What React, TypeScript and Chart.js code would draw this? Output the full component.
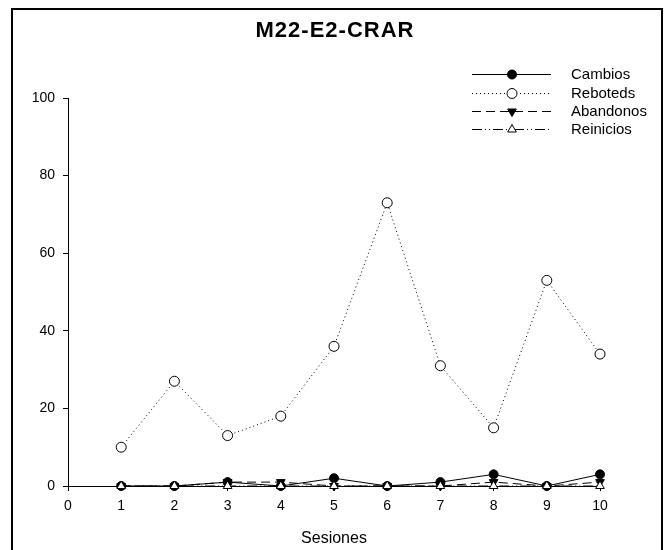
import React, { useEffect, useRef } from "react";
import { Chart, registerables } from "chart.js";

Chart.register(...registerables);

const sessions = [1, 2, 3, 4, 5, 6, 7, 8, 9, 10];
const cambios = [0, 0, 1, 0, 2, 0, 1, 3, 0, 3];
const reboteds = [10, 27, 13, 18, 36, 73, 31, 15, 53, 34];
const abandonos = [0, 0, 1, 1, 0, 0, 0, 1, 0, 1];
const reinicios = [0, 0, 0, 0, 0, 0, 0, 0, 0, 0];
const titleText = "M22-E2-CRAR";
const xTitle = "Sesiones";
const FONT = "'Liberation Sans', Arial, sans-serif";

const toPts = (vals: number[]) => sessions.map((s, i) => ({ x: s, y: vals[i] }));

function drawMarker(ctx: CanvasRenderingContext2D, style: string, x: number, y: number, r: number, fill: string, rot: number) {
  ctx.save();
  ctx.setLineDash([]);
  ctx.lineWidth = 1;
  ctx.strokeStyle = "#000";
  ctx.fillStyle = fill;
  ctx.beginPath();
  if (style === "circle") {
    ctx.arc(x, y, r, 0, Math.PI * 2);
  } else {
    const s = rot === 180 ? -1 : 1;
    ctx.moveTo(x, y - s * r);
    ctx.lineTo(x + r * 0.866, y + s * r * 0.5);
    ctx.lineTo(x - r * 0.866, y + s * r * 0.5);
    ctx.closePath();
  }
  ctx.fill();
  ctx.stroke();
  ctx.restore();
}

const legendPlugin = {
  id: "customLegend",
  afterDraw(chart: any) {
    const ctx = chart.ctx as CanvasRenderingContext2D;
    const order = [0, 1, 2, 3];
    const rows = [74, 93, 111, 129];
    order.forEach((di, i) => {
      const ds = chart.data.datasets[di];
      const y = rows[i];
      ctx.save();
      ctx.strokeStyle = "#000";
      ctx.lineWidth = 1;
      ctx.setLineDash(ds.borderDash || []);
      ctx.beginPath();
      ctx.moveTo(472, y + 0.5);
      ctx.lineTo(551, y + 0.5);
      ctx.stroke();
      ctx.restore();
      drawMarker(ctx, ds.pointStyle, 512, y + 0.5, ds.pointRadius, ds.pointBackgroundColor, ds.rotation || 0);
      ctx.save();
      ctx.fillStyle = "#000";
      ctx.font = `15px ${FONT}`;
      ctx.textBaseline = "middle";
      ctx.textAlign = "left";
      ctx.fillText(ds.label, 571, y + 1);
      ctx.restore();
    });
  },
};

export default function App() {
  const ref = useRef<HTMLCanvasElement>(null);
  useEffect(() => {
    if (!ref.current) return;
    const chart = new Chart(ref.current, {
      type: "line",
      data: {
        datasets: [
          {
            label: "Cambios",
            data: toPts(cambios),
            borderColor: "#000",
            borderWidth: 1,
            borderDash: [],
            pointStyle: "circle",
            pointRadius: 4.5,
            pointBackgroundColor: "#000",
            pointBorderColor: "#000",
            pointBorderWidth: 1,
            order: 3,
            clip: false,
          },
          {
            label: "Reboteds",
            data: toPts(reboteds),
            borderColor: "#000",
            borderWidth: 1,
            borderDash: [1, 3],
            pointStyle: "circle",
            pointRadius: 5,
            pointBackgroundColor: "#fff",
            pointBorderColor: "#000",
            pointBorderWidth: 1,
            order: 4,
            clip: false,
          },
          {
            label: "Abandonos",
            data: toPts(abandonos),
            borderColor: "#000",
            borderWidth: 1,
            borderDash: [9, 5],
            pointStyle: "triangle",
            rotation: 180,
            pointRadius: 5,
            pointBackgroundColor: "#000",
            pointBorderColor: "#000",
            pointBorderWidth: 1,
            order: 2,
            clip: false,
          },
          {
            label: "Reinicios",
            data: toPts(reinicios),
            borderColor: "#000",
            borderWidth: 1,
            borderDash: [10, 3, 1, 3, 1, 3],
            pointStyle: "triangle",
            pointRadius: 5,
            pointBackgroundColor: "#fff",
            pointBorderColor: "#000",
            pointBorderWidth: 1,
            order: 1,
            clip: false,
          },
        ] as any,
      },
      options: {
        animation: false,
        responsive: false,
        maintainAspectRatio: false,
        layout: { padding: { left: 0, right: 70, top: 98, bottom: 2 } },
        plugins: {
          legend: { display: false },
          title: { display: false },
          tooltip: { enabled: false },
        },
        elements: { line: { tension: 0 } },
        scales: {
          x: {
            type: "linear",
            min: 0,
            max: 10,
            afterFit: (s: any) => {
              s.height = 62;
            },
            ticks: {
              stepSize: 1,
              color: "#000",
              font: { family: FONT, size: 14 },
              padding: 7,
            },
            grid: {
              drawOnChartArea: false,
              drawTicks: true,
              tickLength: 5,
              color: "#000",
            },
            border: { display: true, color: "#000", width: 1 },
            title: {
              display: true,
              text: xTitle,
              color: "#000",
              font: { family: FONT, size: 16 },
              padding: { top: 0, bottom: 0 },
            },
          },
          y: {
            type: "linear",
            min: 0,
            max: 100,
            afterFit: (s: any) => {
              s.width = 68;
            },
            ticks: {
              stepSize: 20,
              color: "#000",
              font: { family: FONT, size: 14 },
              padding: 8,
            },
            grid: {
              drawOnChartArea: false,
              drawTicks: true,
              tickLength: 5,
              color: "#000",
            },
            border: { display: true, color: "#000", width: 1 },
          },
        },
      },
      plugins: [legendPlugin],
    });
    return () => chart.destroy();
  }, []);

  return (
    <div style={{ position: "absolute", left: 0, top: 0, width: 670, height: 550, overflow: "hidden", background: "#fff" }}>
      <div
        style={{
          position: "absolute",
          left: 11,
          top: 8,
          width: 648,
          height: 580,
          border: "2px solid #000",
        }}
      />
      <canvas ref={ref} width={670} height={550} style={{ position: "absolute", left: 0, top: 0, width: 670, height: 550 }} />
      <div
        style={{
          position: "absolute",
          left: 0,
          width: 670,
          top: 16,
          textAlign: "center",
          fontFamily: FONT,
          fontWeight: "bold",
          fontSize: 22,
          lineHeight: "28px",
          letterSpacing: "1px",
          color: "#000",
        }}
      >
        {titleText}
      </div>
    </div>
  );
}
